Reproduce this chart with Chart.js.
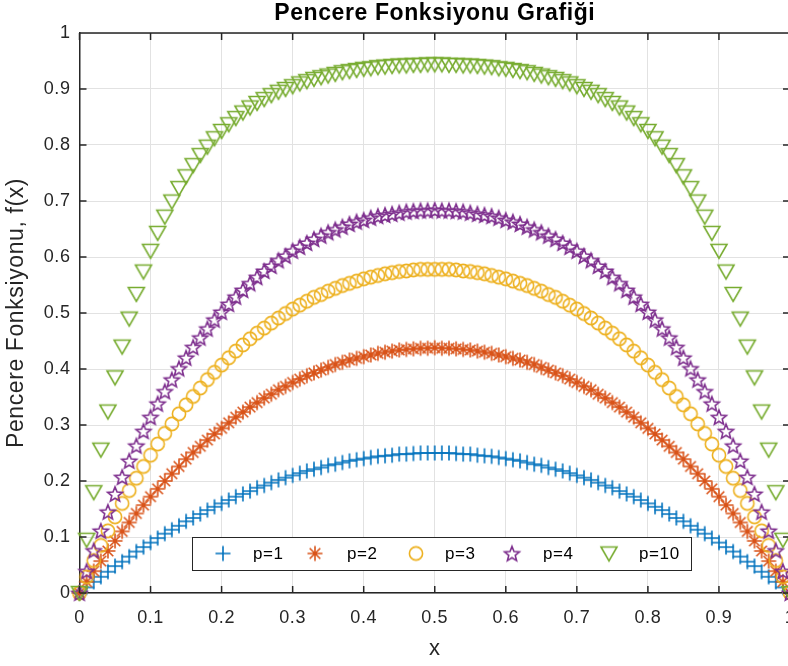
<!DOCTYPE html>
<html>
<head>
<meta charset="utf-8">
<script src="https://cdn.jsdelivr.net/npm/chart.js@4.4.0/dist/chart.umd.min.js"></script>
<style>
  html, body { margin: 0; padding: 0; background: #fff; overflow: hidden; }
  canvas { display: block; }
</style>
</head>
<body>
<!-- the plot box in the original runs 2px past the right edge of the image -->
<canvas id="windowChart" width="790" height="666"></canvas>
<script>
var xValues = [
    0, 0.01, 0.02, 0.03, 0.04, 0.05, 0.06, 0.07, 0.08, 0.09,
    0.10, 0.11, 0.12, 0.13, 0.14, 0.15, 0.16, 0.17, 0.18, 0.19,
    0.20, 0.21, 0.22, 0.23, 0.24, 0.25, 0.26, 0.27, 0.28, 0.29,
    0.30, 0.31, 0.32, 0.33, 0.34, 0.35, 0.36, 0.37, 0.38, 0.39,
    0.40, 0.41, 0.42, 0.43, 0.44, 0.45, 0.46, 0.47, 0.48, 0.49,
    0.50,
    0.51, 0.52, 0.53, 0.54, 0.55, 0.56, 0.57, 0.58, 0.59, 0.60,
    0.61, 0.62, 0.63, 0.64, 0.65, 0.66, 0.67, 0.68, 0.69, 0.70,
    0.71, 0.72, 0.73, 0.74, 0.75, 0.76, 0.77, 0.78, 0.79, 0.80,
    0.81, 0.82, 0.83, 0.84, 0.85, 0.86, 0.87, 0.88, 0.89, 0.90,
    0.91, 0.92, 0.93, 0.94, 0.95, 0.96, 0.97, 0.98, 0.99, 1.00
];
var p1Values = [
    0, 0.010, 0.020, 0.029, 0.038, 0.048, 0.056, 0.065, 0.074, 0.082,
    0.090, 0.098, 0.106, 0.113, 0.120, 0.128, 0.134, 0.141, 0.148, 0.154,
    0.160, 0.166, 0.172, 0.177, 0.182, 0.188, 0.192, 0.197, 0.202, 0.206,
    0.210, 0.214, 0.218, 0.221, 0.224, 0.228, 0.230, 0.233, 0.236, 0.238,
    0.240, 0.242, 0.244, 0.245, 0.246, 0.248, 0.248, 0.249, 0.250, 0.250,
    0.250,
    0.250, 0.250, 0.249, 0.248, 0.248, 0.246, 0.245, 0.244, 0.242, 0.240,
    0.238, 0.236, 0.233, 0.230, 0.228, 0.224, 0.221, 0.218, 0.214, 0.210,
    0.206, 0.202, 0.197, 0.192, 0.188, 0.182, 0.177, 0.172, 0.166, 0.160,
    0.154, 0.148, 0.141, 0.134, 0.128, 0.120, 0.113, 0.106, 0.098, 0.090,
    0.082, 0.074, 0.065, 0.056, 0.048, 0.038, 0.029, 0.020, 0.010, 0
];
var p2Values = [
    0, 0.020, 0.039, 0.057, 0.075, 0.093, 0.110, 0.126, 0.142, 0.157,
    0.172, 0.186, 0.200, 0.213, 0.226, 0.239, 0.251, 0.262, 0.273, 0.284,
    0.294, 0.304, 0.314, 0.323, 0.332, 0.340, 0.348, 0.355, 0.363, 0.369,
    0.376, 0.382, 0.388, 0.393, 0.398, 0.403, 0.408, 0.412, 0.416, 0.419,
    0.422, 0.425, 0.428, 0.430, 0.432, 0.434, 0.435, 0.436, 0.437, 0.437,
    0.438,
    0.437, 0.437, 0.436, 0.435, 0.434, 0.432, 0.430, 0.428, 0.425, 0.422,
    0.419, 0.416, 0.412, 0.408, 0.403, 0.398, 0.393, 0.388, 0.382, 0.376,
    0.369, 0.363, 0.355, 0.348, 0.340, 0.332, 0.323, 0.314, 0.304, 0.294,
    0.284, 0.273, 0.262, 0.251, 0.239, 0.226, 0.213, 0.200, 0.186, 0.172,
    0.157, 0.142, 0.126, 0.110, 0.093, 0.075, 0.057, 0.039, 0.020, 0
];
var p3Values = [
    0, 0.029, 0.058, 0.085, 0.111, 0.136, 0.160, 0.183, 0.205, 0.226,
    0.246, 0.266, 0.285, 0.302, 0.320, 0.336, 0.351, 0.366, 0.381, 0.394,
    0.407, 0.420, 0.432, 0.443, 0.454, 0.464, 0.473, 0.482, 0.491, 0.499,
    0.507, 0.514, 0.521, 0.528, 0.533, 0.539, 0.544, 0.549, 0.553, 0.557,
    0.561, 0.564, 0.567, 0.570, 0.572, 0.574, 0.575, 0.577, 0.578, 0.578,
    0.578,
    0.578, 0.578, 0.577, 0.575, 0.574, 0.572, 0.570, 0.567, 0.564, 0.561,
    0.557, 0.553, 0.549, 0.544, 0.539, 0.533, 0.528, 0.521, 0.514, 0.507,
    0.499, 0.491, 0.482, 0.473, 0.464, 0.454, 0.443, 0.432, 0.420, 0.407,
    0.394, 0.381, 0.366, 0.351, 0.336, 0.320, 0.302, 0.285, 0.266, 0.246,
    0.226, 0.205, 0.183, 0.160, 0.136, 0.111, 0.085, 0.058, 0.029, 0
];
var p4Values = [
    0, 0.039, 0.076, 0.111, 0.145, 0.177, 0.207, 0.236, 0.263, 0.289,
    0.314, 0.338, 0.360, 0.381, 0.401, 0.420, 0.439, 0.456, 0.472, 0.488,
    0.502, 0.516, 0.529, 0.541, 0.553, 0.564, 0.575, 0.584, 0.594, 0.602,
    0.611, 0.618, 0.625, 0.632, 0.638, 0.644, 0.649, 0.654, 0.659, 0.663,
    0.666, 0.670, 0.673, 0.675, 0.677, 0.679, 0.681, 0.682, 0.683, 0.683,
    0.684,
    0.683, 0.683, 0.682, 0.681, 0.679, 0.677, 0.675, 0.673, 0.670, 0.666,
    0.663, 0.659, 0.654, 0.649, 0.644, 0.638, 0.632, 0.625, 0.618, 0.611,
    0.602, 0.594, 0.584, 0.575, 0.564, 0.553, 0.541, 0.529, 0.516, 0.502,
    0.488, 0.472, 0.456, 0.439, 0.420, 0.401, 0.381, 0.360, 0.338, 0.314,
    0.289, 0.263, 0.236, 0.207, 0.177, 0.145, 0.111, 0.076, 0.039, 0
];
var p10Values = [
    0, 0.095, 0.180, 0.256, 0.324, 0.385, 0.440, 0.490, 0.534, 0.574,
    0.611, 0.643, 0.672, 0.699, 0.723, 0.744, 0.764, 0.782, 0.797, 0.812,
    0.825, 0.837, 0.848, 0.858, 0.867, 0.875, 0.882, 0.889, 0.895, 0.900,
    0.905, 0.910, 0.914, 0.918, 0.921, 0.924, 0.927, 0.930, 0.932, 0.934,
    0.936, 0.937, 0.939, 0.940, 0.941, 0.942, 0.942, 0.943, 0.943, 0.944,
    0.944,
    0.944, 0.943, 0.943, 0.942, 0.942, 0.941, 0.940, 0.939, 0.937, 0.936,
    0.934, 0.932, 0.930, 0.927, 0.924, 0.921, 0.918, 0.914, 0.910, 0.905,
    0.900, 0.895, 0.889, 0.882, 0.875, 0.867, 0.858, 0.848, 0.837, 0.825,
    0.812, 0.797, 0.782, 0.764, 0.744, 0.723, 0.699, 0.672, 0.643, 0.611,
    0.574, 0.534, 0.490, 0.440, 0.385, 0.324, 0.256, 0.180, 0.095, 0
];
var seriesLabels = ['p=1', 'p=2', 'p=3', 'p=4', 'p=10'];
var xTickLabels = ['0', '0.1', '0.2', '0.3', '0.4', '0.5', '0.6', '0.7', '0.8', '0.9', '1'];
var yTickLabels = ['0', '0.1', '0.2', '0.3', '0.4', '0.5', '0.6', '0.7', '0.8', '0.9', '1'];

var colors = ['#0072BD', '#D95319', '#EDB120', '#7E2F8E', '#77AC30'];
var markerKinds = ['plus', 'asterisk', 'circle', 'star', 'triangle'];
var axisColor = '#262626';
var fontFamily = '"Liberation Sans", Arial, Helvetica, sans-serif';

// marker glyphs drawn once on small canvases, used as point styles
function makeMarker(kind, color) {
    var c = document.createElement('canvas');
    c.width = 22; c.height = 22;
    var g = c.getContext('2d');
    g.strokeStyle = color;
    g.lineWidth = 1.6;
    g.translate(11, 11);
    g.beginPath();
    if (kind === 'plus') {
        g.moveTo(-7.5, 0); g.lineTo(7.5, 0);
        g.moveTo(0, -7.5); g.lineTo(0, 7.5);
    } else if (kind === 'asterisk') {
        g.moveTo(-7.5, 0); g.lineTo(7.5, 0);
        g.moveTo(0, -7.5); g.lineTo(0, 7.5);
        g.moveTo(-5.3, -5.3); g.lineTo(5.3, 5.3);
        g.moveTo(-5.3, 5.3); g.lineTo(5.3, -5.3);
    } else if (kind === 'circle') {
        g.arc(0, 0, 6.6, 0, Math.PI * 2);
    } else if (kind === 'star') {
        for (var k = 0; k < 10; k++) {
            var r = k % 2 ? 3.4 : 7.8;
            var a = -Math.PI / 2 + k * Math.PI / 5;
            if (k === 0) g.moveTo(r * Math.cos(a), r * Math.sin(a) + 0.8);
            else g.lineTo(r * Math.cos(a), r * Math.sin(a) + 0.8);
        }
        g.closePath();
    } else {
        g.moveTo(-8, -6.5); g.lineTo(8, -6.5); g.lineTo(0, 7.5);
        g.closePath();
    }
    g.stroke();
    return c;
}
var markers = colors.map(function (col, i) { return makeMarker(markerKinds[i], col); });

var seriesValues = [p1Values, p2Values, p3Values, p4Values, p10Values];
var datasets = seriesValues.map(function (vals, i) {
    return {
        label: seriesLabels[i],
        data: xValues.map(function (x, j) { return { x: x, y: vals[j] }; }),
        pointStyle: markers[i],
        pointRadius: 7,
        borderColor: colors[i],
        backgroundColor: colors[i],
        showLine: false,
        clip: false,
        order: 5 - i
    };
});

// the original font runs a bit wider than Liberation Sans
var spacingPlugin = {
    id: 'spacing',
    beforeUpdate: function (chart) { chart.ctx.letterSpacing = '0.6px'; },
    beforeDraw: function (chart) { chart.ctx.letterSpacing = '0.6px'; }
};

// box outline on top/right and inward tick marks, like the original figure
var framePlugin = {
    id: 'frame',
    afterDraw: function (chart) {
        var ctx = chart.ctx, a = chart.chartArea;
        var xs = chart.scales.x, ys = chart.scales.y;
        ctx.save();
        ctx.strokeStyle = axisColor;
        ctx.lineWidth = 1.5;
        ctx.beginPath();
        ctx.moveTo(a.left, a.top); ctx.lineTo(a.right, a.top); ctx.lineTo(a.right, a.bottom);
        xs.ticks.forEach(function (t) {
            var px = xs.getPixelForValue(t.value);
            ctx.moveTo(px, a.bottom); ctx.lineTo(px, a.bottom - 7);
            ctx.moveTo(px, a.top); ctx.lineTo(px, a.top + 7);
        });
        ys.ticks.forEach(function (t) {
            var py = ys.getPixelForValue(t.value);
            ctx.moveTo(a.left, py); ctx.lineTo(a.left + 7, py);
            ctx.moveTo(a.right, py); ctx.lineTo(a.right - 7, py);
        });
        ctx.stroke();
        ctx.restore();
    }
};

var legendBox = { left: 192, top: 537, width: 499, height: 33 };
var legendMarkerX = [223, 315, 416, 512, 609];
var legendTextX = [253, 347, 445, 543, 639];

var legendPlugin = {
    id: 'insideLegend',
    afterDraw: function (chart) {
        var ctx = chart.ctx;
        var cy = legendBox.top + legendBox.height / 2;
        ctx.save();
        ctx.fillStyle = '#ffffff';
        ctx.fillRect(legendBox.left, legendBox.top, legendBox.width, legendBox.height);
        ctx.strokeStyle = axisColor;
        ctx.lineWidth = 1;
        ctx.strokeRect(legendBox.left + 0.5, legendBox.top + 0.5, legendBox.width, legendBox.height);
        ctx.font = '17px ' + fontFamily;
        ctx.fillStyle = '#000000';
        ctx.textBaseline = 'middle';
        ctx.textAlign = 'left';
        chart.data.datasets.forEach(function (ds, i) {
            ctx.drawImage(ds.pointStyle, legendMarkerX[i] - 11, cy - 11);
            ctx.fillText(ds.label, legendTextX[i], cy + 1);
        });
        ctx.restore();
    }
};

Chart.defaults.font.family = fontFamily;

const windowChart = new Chart(document.getElementById('windowChart'), {
    type: 'scatter',
    data: { datasets: datasets },
    options: {
        responsive: false,
        animation: false,
        layout: { autoPadding: false, padding: 0 },
        plugins: {
            legend: { display: false },
            tooltip: { enabled: false },
            title: {
                display: true,
                text: 'Pencere Fonksiyonu Grafiği',
                fullSize: false,
                color: '#000000',
                font: { size: 23, weight: 'bold' },
                padding: { top: 0, bottom: 5.4 }
            }
        },
        scales: {
            x: {
                type: 'linear',
                min: 0,
                max: 1,
                ticks: {
                    stepSize: 0.1,
                    autoSkip: false,
                    maxRotation: 0,
                    padding: 14,
                    color: axisColor,
                    font: { size: 18 },
                    callback: function (v, i) { return xTickLabels[i]; }
                },
                grid: { color: '#e2e2e2', drawTicks: false },
                border: { color: axisColor, width: 1.5 },
                title: { display: true, text: 'x', color: axisColor, font: { size: 22 }, padding: { top: 0, bottom: 4 } },
                afterFit: function (s) { s.height = 73; s.paddingLeft = 0; s.paddingRight = 0; }
            },
            y: {
                type: 'linear',
                min: 0,
                max: 1,
                ticks: {
                    stepSize: 0.1,
                    padding: 9,
                    color: axisColor,
                    font: { size: 18 },
                    callback: function (v, i) { return yTickLabels[i]; }
                },
                grid: { color: '#e2e2e2', drawTicks: false },
                border: { color: axisColor, width: 1.5 },
                title: { display: true, text: 'Pencere Fonksiyonu, f(x)', color: axisColor, font: { size: 23 }, padding: { top: 3, bottom: 0 } },
                afterFit: function (s) { s.width = 79.5; s.paddingTop = 0; s.paddingBottom = 0; }
            }
        }
    },
    plugins: [spacingPlugin, framePlugin, legendPlugin]
});
</script>
</body>
</html>
